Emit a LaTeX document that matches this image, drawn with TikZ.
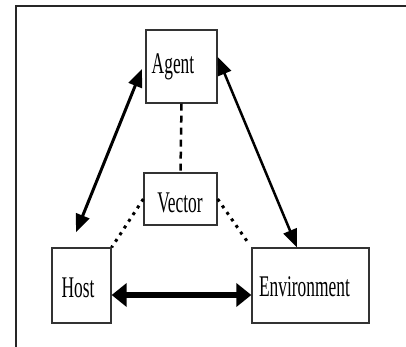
\documentclass[tikz,border=0pt]{standalone}
\usepackage{fontspec}
\newfontfamily\narrowserif[FakeStretch=0.58]{Liberation Serif}
\usetikzlibrary{arrows.meta,calc}
\begin{document}
\begin{tikzpicture}[x=1pt,y=-1pt,
  box/.style={draw=black!80,line width=1.3pt,inner sep=0pt,fill=white},
  lbl/.style={anchor=base,inner sep=0pt,font=\narrowserif\fontsize{30}{30}\selectfont},
  frame/.style={draw=black!85,line width=2pt},
  link/.style={line width=3pt,{Triangle[length=18pt,width=14pt]}-{Triangle[length=18pt,width=14pt]}},
  bond/.style={line width=6pt,{Triangle[length=15pt,width=23pt]}-{Triangle[length=15pt,width=23pt]}},
  vdash/.style={line width=2.5pt,dash pattern=on 7pt off 5pt},
  vdot/.style={line width=3pt,dash pattern=on 3pt off 5pt}]
\useasboundingbox (0,0) rectangle (406,347);
% outer frame (top and left edges)
\draw[frame] (16,347) -- (16,6) -- (406,6);

% boxes
\node[box,minimum width=71pt,minimum height=73pt] (agent) at (181.5,66.5) {};
\node[box,minimum width=73pt,minimum height=52pt] (vector) at (180.5,199) {};
\node[box,minimum width=59pt,minimum height=75pt] (host) at (81.5,285.5) {};
\node[box,minimum width=117pt,minimum height=75pt] (env) at (310.5,285.5) {};

% labels
\node[lbl] (agentT) at (173,74) {Agent};
\node[lbl] (vectorT) at (180,212) {Vector};
\node[lbl] (hostT) at (78,297) {Host};
\node[lbl] (envT) at (304.5,296) {Environment};

% vector links
\draw[vdash] (agent.south) -- (vector.north);
\draw[vdot] (vector.west) -- (host.north east);
\draw[vdot,shorten >=4pt] (vector.east) -- (env.north west);

% two-way relations
\draw[link,shorten <=1pt] ([xshift=-3pt,yshift=-1.5pt]agent.west) -- ($(host.north)+(-5.5,-15)$);
\draw[link,line width=2.5pt] ([yshift=9.5pt]agent.east) -- ($(env.north)+(-13.5,0)$);
\draw[bond] ([yshift=-9.5pt]host.east) -- ([yshift=-9.5pt]env.west);
\end{tikzpicture}
\end{document}
